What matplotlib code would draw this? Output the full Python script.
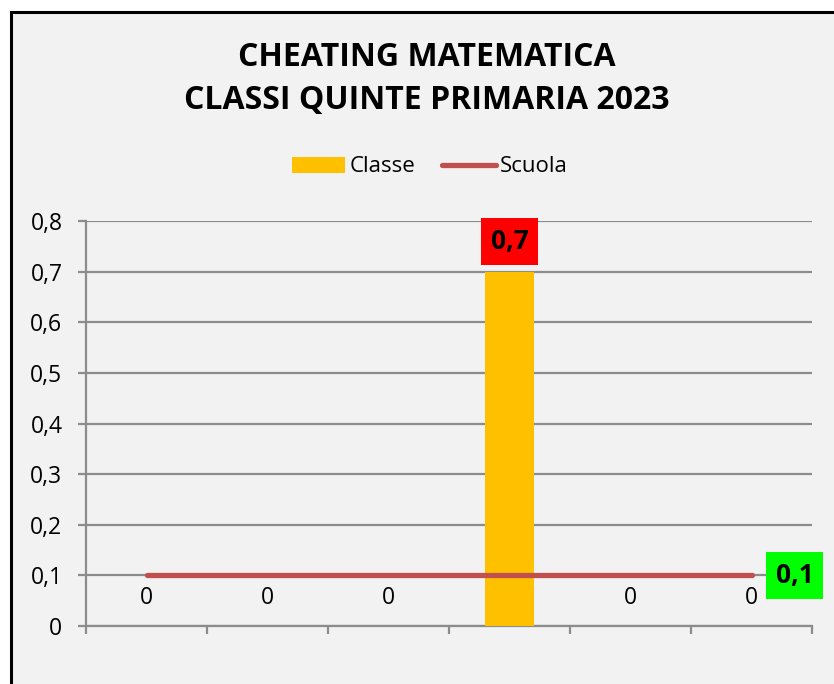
import matplotlib
matplotlib.use("Agg")
import matplotlib.pyplot as plt
from matplotlib.patches import Rectangle
from matplotlib.lines import Line2D
from matplotlib.patches import Patch

# Data
categories = ["1", "2", "3", "4", "5", "6"]
classe = [0, 0, 0, 0.7, 0, 0]
scuola = [0.1, 0.1, 0.1, 0.1, 0.1, 0.1]
yticks = [0, 0.1, 0.2, 0.3, 0.4, 0.5, 0.6, 0.7, 0.8]

def fmt(v):
    s = f"{v:g}"
    return s.replace(".", ",")

FONT = "Open Sans"
BG = "#f2f2f2"
GRID = "#8c8c8c"
BAR = "#ffc000"
LINE = "#c0504d"

fig = plt.figure(figsize=(8.34, 6.84), dpi=100, facecolor="white")
W, H = 834, 684

# Chart area frame (background + border)
frame = Rectangle((11 / W, -0.05), 1.2, (H - 12) / H + 0.05, transform=fig.transFigure,
                  facecolor=BG, edgecolor="black", linewidth=2.2, zorder=-10)
fig.patches.append(frame)

ax = fig.add_axes([86 / W, (H - 626) / H, (812 - 86) / W, (626 - 221) / H])
ax.set_zorder(5)
ax.patch.set_alpha(0)

x = list(range(len(categories)))
ax.bar(x, classe, width=0.4, color=BAR, zorder=3)
ax.plot(x, scuola, color=LINE, linewidth=3.8, solid_capstyle="round", zorder=4)

ax.set_xlim(-0.5, len(categories) - 0.5)
ax.set_ylim(0, 0.8)
ax.set_yticks(yticks)
ax.set_yticklabels([fmt(v) for v in yticks], fontsize=16.5, fontfamily=FONT)
ax.yaxis.grid(True, color=GRID, linewidth=1.6, zorder=1)
ax.set_axisbelow(True)

ax.set_xticks(x)
ax.set_xticklabels([])
ax.tick_params(axis="x", which="major", length=0)
ax.set_xticks([i - 0.5 for i in range(len(categories) + 1)], minor=True)
ax.tick_params(axis="x", which="minor", length=6, width=1.6, color=GRID, direction="out")
ax.tick_params(axis="y", length=6, width=1.6, color=GRID, pad=11, direction="out")

for s in ["top", "right"]:
    ax.spines[s].set_visible(False)
ax.spines["left"].set_color(GRID)
ax.spines["left"].set_linewidth(1.6)
ax.spines["bottom"].set_color(GRID)
ax.spines["bottom"].set_linewidth(1.6)

# Bar value labels
for xi, v in zip(x, classe):
    if v > 0.05:
        ax.annotate(fmt(v), (xi, v), xytext=(0, 22), textcoords="offset points",
                    ha="center", va="center", fontsize=19, fontweight="bold",
                    fontfamily=FONT, color="black", zorder=6,
                    bbox=dict(boxstyle="square,pad=0.38", facecolor="#ff0000", edgecolor="none"))
    else:
        ax.annotate(fmt(v), (xi, v), xytext=(0, 20), textcoords="offset points",
                    ha="center", va="center", fontsize=16.5, fontfamily=FONT,
                    color="black", zorder=6)

# Line value label at the last point
ax.annotate(fmt(scuola[-1]), (x[-1], scuola[-1]), xytext=(31, 0), textcoords="offset points",
            ha="center", va="center", fontsize=19, fontweight="bold", fontfamily=FONT,
            color="black", zorder=6, annotation_clip=False,
            bbox=dict(boxstyle="square,pad=0.38", facecolor="#00ff00", edgecolor="none"))

# Title
fig.text(427 / W, 1 - 57 / H, "CHEATING MATEMATICA", ha="center", va="center",
         fontsize=23, fontweight="bold", fontfamily=FONT)
fig.text(427 / W, 1 - 101 / H, "CLASSI QUINTE PRIMARIA 2023", ha="center", va="center",
         fontsize=23, fontweight="bold", fontfamily=FONT)

# Legend
handles = [Patch(facecolor=BAR, edgecolor="none"),
           Line2D([0], [0], color=LINE, linewidth=3.8, solid_capstyle="round")]
fig.legend(handles, ["Classe", "Scuola"], loc="center", bbox_to_anchor=(430 / W, 1 - 167 / H),
           ncol=2, frameon=False, prop={"family": FONT, "size": 16},
           handlelength=2.4, handletextpad=0.2, columnspacing=1.2, handleheight=0.7)

fig.savefig("out.png", dpi=100, facecolor="white")
